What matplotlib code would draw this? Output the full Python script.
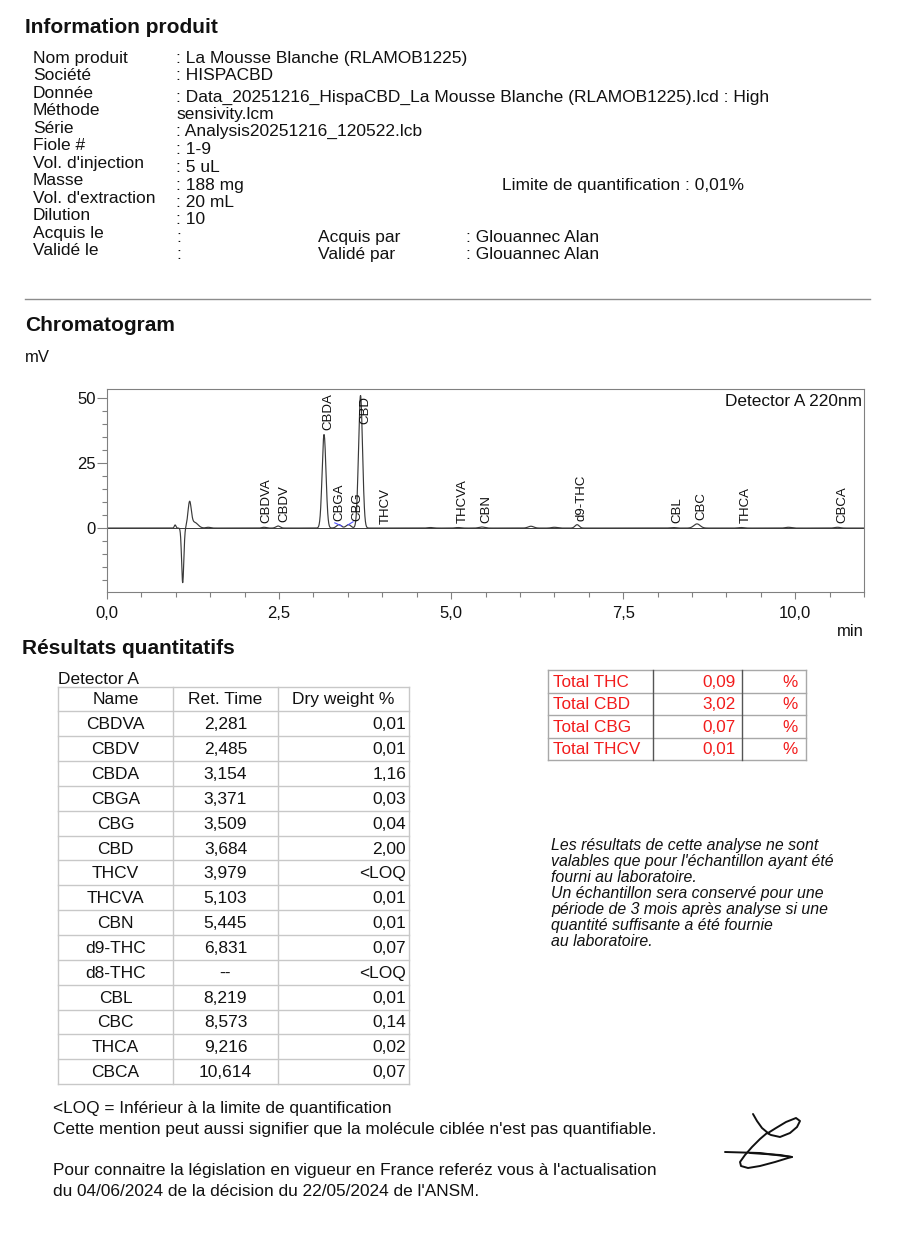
import matplotlib
matplotlib.use("Agg")
import matplotlib.pyplot as plt
from matplotlib.ticker import MultipleLocator, FuncFormatter
import numpy as np

plt.rcParams["font.family"] = ["Liberation Sans", "DejaVu Sans"]

# ---------------- data ----------------
info_labels = ["Nom produit", "Société", "Donnée", "Méthode", "Série", "Fiole #",
               "Vol. d'injection", "Masse", "Vol. d'extraction", "Dilution",
               "Acquis le", "Validé le"]
info_values = [": La Mousse Blanche (RLAMOB1225)", ": HISPACBD",
               ": Data_20251216_HispaCBD_La Mousse Blanche (RLAMOB1225).lcd : High",
               "sensivity.lcm", ": Analysis20251216_120522.lcb", ": 1-9", ": 5 uL",
               ": 188 mg", ": 20 mL", ": 10", ":", ":"]
operators = [("Acquis par", ": Glouannec Alan"), ("Validé par", ": Glouannec Alan")]
loq_text = "Limite de quantification : 0,01%"

compounds = ["CBDVA", "CBDV", "CBDA", "CBGA", "CBG", "CBD", "THCV", "THCVA", "CBN",
             "d9-THC", "d8-THC", "CBL", "CBC", "THCA", "CBCA"]
ret_times = ["2,281", "2,485", "3,154", "3,371", "3,509", "3,684", "3,979", "5,103",
             "5,445", "6,831", "--", "8,219", "8,573", "9,216", "10,614"]
dry_weight = ["0,01", "0,01", "1,16", "0,03", "0,04", "2,00", "<LOQ", "0,01", "0,01",
              "0,07", "<LOQ", "0,01", "0,14", "0,02", "0,07"]

totals_names = ["Total THC", "Total CBD", "Total CBG", "Total THCV"]
totals_values = ["0,09", "3,02", "0,07", "0,01"]

# peak heights (mV) and widths (min), same order as compounds
peak_height = [0.3, 0.8, 36.0, 1.3, 1.3, 51.0, 0.0, 0.2, 0.4, 1.3, 0.0, 0.2, 1.6, 0.2, 0.3]
peak_sigma = [0.03, 0.03, 0.028, 0.035, 0.035, 0.029, 0.03, 0.04, 0.04, 0.03, 0.03,
              0.04, 0.045, 0.04, 0.04]
# unlabelled features: solvent front and small unknown peaks
other_rt = [0.99, 1.10, 1.20, 1.27, 1.47, 4.70, 6.16, 6.50, 9.90]
other_height = [1.2, -21.0, 9.5, 2.2, 0.3, 0.2, 0.7, 0.3, 0.3]
other_sigma = [0.012, 0.016, 0.024, 0.05, 0.03, 0.04, 0.04, 0.04, 0.04]
# integration baselines drawn in blue (CBGA, CBG)
blue_x = [[3.31, 3.41], [3.50, 3.575]]
blue_y = [[2.0, 0.8], [1.2, 2.4]]

note_lines = ["Les résultats de cette analyse ne sont",
              "valables que pour l'échantillon ayant été",
              "fourni au laboratoire.",
              "Un échantillon sera conservé pour une",
              "période de 3 mois après analyse si une",
              "quantité suffisante a été fournie",
              "au laboratoire."]
footer_lines = ["<LOQ = Inférieur à la limite de quantification",
                "Cette mention peut aussi signifier que la molécule ciblée n'est pas quantifiable.",
                "",
                "Pour connaitre la législation en vigueur en France referéz vous à l'actualisation",
                "du 04/06/2024 de la décision du 22/05/2024 de l'ANSM."]

sig_x = [753, 757, 762, 768, 776, 786, 796, 800, 797, 790, 780, 771, 767, 760, 752, 745,
         740, 741, 748, 760, 775, 788, 792, 780, 765, 750]
sig_y = [1114, 1121, 1128, 1133, 1128, 1122, 1118, 1121, 1127, 1133, 1137, 1135, 1133,
         1139, 1147, 1155, 1162, 1166, 1168, 1166, 1162, 1158, 1157, 1155, 1154, 1153]
sig2_x = [725, 760, 792]
sig2_y = [1152, 1153, 1157]

# ---------------- figure ----------------
W, H = 900, 1247
fig = plt.figure(figsize=(W / 100, H / 100), dpi=100)
doc = fig.add_axes([0, 0, 1, 1])
doc.set_xlim(0, W)
doc.set_ylim(H, 0)
doc.axis("off")

TXT = "#111111"
FS = 12.5

# Information produit
doc.text(25, 33, "Information produit", fontsize=15, weight="bold", color=TXT)
label_base = [63, 80, 98, 115, 133, 150, 168, 185, 203, 220, 238, 255]
value_base = [63, 80, 102, 119, 136, 154, 172, 190, 207, 224, 242, 259]
for lab, yb in zip(info_labels, label_base):
    doc.text(33, yb, lab, fontsize=FS, color=TXT, va="baseline")
for val, yb in zip(info_values, value_base):
    doc.text(176, yb, val, fontsize=FS, color=TXT, va="baseline")
for (who, name), yb in zip(operators, value_base[-2:]):
    doc.text(318, yb, who, fontsize=FS, color=TXT, va="baseline")
    doc.text(466, yb, name, fontsize=FS, color=TXT, va="baseline")
doc.text(502, 190, loq_text, fontsize=FS, color=TXT, va="baseline")

doc.plot([25, 870], [299, 299], color="#8c8c8c", lw=1)

# Chromatogram
doc.text(25, 331, "Chromatogram", fontsize=15, weight="bold", color=TXT)
doc.text(25, 362, "mV", fontsize=12, color=TXT)
doc.text(864, 636, "min", fontsize=12, color=TXT, ha="right")

ax = fig.add_axes([107 / W, 1 - 592 / H, 757 / W, 203 / H])
rt = [float(r.replace(",", ".")) for r in ret_times if r != "--"]
hts = [h for h, r in zip(peak_height, ret_times) if r != "--"]
sig = [s for s, r in zip(peak_sigma, ret_times) if r != "--"]
names = [c for c, r in zip(compounds, ret_times) if r != "--"]

t = np.linspace(0, 11, 4401)
signal = np.zeros_like(t)
for c, h, s in zip(rt + other_rt, hts + other_height, sig + other_sigma):
    signal += h * np.exp(-0.5 * ((t - c) / s) ** 2)
ax.axhline(0, color="#3a3a3a", lw=0.7, zorder=1)
ax.plot(t, signal, color="#3a3a3a", lw=0.85, zorder=2)
for bx, by in zip(blue_x, blue_y):
    ax.plot(bx, by, color="#5050ff", lw=0.8, zorder=3)

# label positions: slightly right of the peak, low labels pushed apart when crowded
lab_x = [c + 0.07 for c in rt]
lab_y = [min(h + 1.6, 40.0) for h in hts]
min_gap = 0.26
for i in range(1, len(lab_x)):
    if lab_y[i] < 10 and lab_y[i - 1] < 10 and lab_x[i] - lab_x[i - 1] < min_gap:
        mid = (lab_x[i] + lab_x[i - 1]) / 2
        lab_x[i - 1], lab_x[i] = mid - min_gap / 2, mid + min_gap / 2
for n, lx, ly in zip(names, lab_x, lab_y):
    ax.text(lx, ly, n, rotation=90, ha="center", va="bottom", fontsize=9.5, color=TXT)

ax.set_xlim(0, 11)
ax.set_ylim(-24.6, 53.5)
ax.xaxis.set_major_locator(MultipleLocator(2.5))
ax.xaxis.set_minor_locator(MultipleLocator(0.5))
ax.yaxis.set_major_locator(MultipleLocator(25))
ax.yaxis.set_minor_locator(MultipleLocator(5))
ax.xaxis.set_major_formatter(FuncFormatter(lambda v, p: f"{v:.1f}".replace(".", ",")))
ax.yaxis.set_major_formatter(FuncFormatter(lambda v, p: f"{v:.0f}"))
ax.tick_params(axis="x", which="major", length=5, width=0.8, color="#808080",
               labelsize=12, pad=5, labelcolor=TXT)
ax.tick_params(axis="x", which="minor", length=3.5, width=0.8, color="#808080")
ax.tick_params(axis="y", which="major", length=7, width=0.8, color="#808080",
               labelsize=12, pad=1, labelcolor=TXT)
ax.tick_params(axis="y", which="minor", length=3.5, width=0.8, color="#808080")
for sp in ax.spines.values():
    sp.set_color("#808080")
    sp.set_linewidth(0.8)
ax.text(0.997, 0.975, "Detector A 220nm", transform=ax.transAxes, ha="right", va="top",
        fontsize=12.4, color=TXT)

# Résultats quantitatifs
doc.text(22, 654, "Résultats quantitatifs", fontsize=15, weight="bold", color=TXT)
doc.text(58, 684, "Detector A", fontsize=FS, color=TXT, va="baseline")

grid_c = "#c8c8c8"
top, rh = 686.5, 24.85
cols = [58, 173, 278, 409]
nrows = len(compounds) + 1
for i in range(nrows + 1):
    doc.plot([cols[0], cols[-1]], [top + i * rh] * 2, color=grid_c, lw=1)
for cx in cols:
    doc.plot([cx, cx], [top, top + nrows * rh], color=grid_c, lw=1)
header = ["Name", "Ret. Time", "Dry weight %"]
for j, hname in enumerate(header):
    doc.text((cols[j] + cols[j + 1]) / 2, top + 0.5 * rh + 5.5, hname, fontsize=FS,
             ha="center", va="baseline", color=TXT)
for i, (n, r, d) in enumerate(zip(compounds, ret_times, dry_weight)):
    yb = top + (i + 1.5) * rh + 5.5
    doc.text((cols[0] + cols[1]) / 2, yb, n, fontsize=FS, ha="center", va="baseline", color=TXT)
    doc.text((cols[1] + cols[2]) / 2, yb, r, fontsize=FS, ha="center", va="baseline", color=TXT)
    doc.text(cols[3] - 3, yb, d, fontsize=FS, ha="right", va="baseline", color=TXT)

# Totals table
RED = "#f21c1c"
ttop, trh = 670, 22.5
tcols = [548, 653, 742, 806]
for i in range(len(totals_names) + 1):
    doc.plot([tcols[0], tcols[-1]], [ttop + i * trh] * 2, color="#a8a8a8", lw=1)
for k, cx in enumerate(tcols):
    doc.plot([cx, cx], [ttop, ttop + len(totals_names) * trh],
             color="#a8a8a8" if k in (0, 3) else "#555555", lw=1)
for i, (n, v) in enumerate(zip(totals_names, totals_values)):
    yb = ttop + (i + 0.5) * trh + 5.5
    doc.text(553, yb, n, fontsize=12.3, color=RED, va="baseline")
    doc.text(736, yb, v, fontsize=12.3, color=RED, ha="right", va="baseline")
    doc.text(798, yb, "%", fontsize=12.3, color=RED, ha="right", va="baseline")

# note in italics
for k, line in enumerate(note_lines):
    doc.text(551, 850 + k * 16, line, fontsize=11.4, style="italic", color=TXT, va="baseline")

# footer
for k, line in enumerate(footer_lines):
    doc.text(53, 1113 + k * 20.7, line, fontsize=12.4, color=TXT, va="baseline")

# signature
doc.plot(sig_x, sig_y, color="#111111", lw=1.4, solid_capstyle="round", solid_joinstyle="round")
doc.plot(sig2_x, sig2_y, color="#111111", lw=1.4, solid_capstyle="round")

fig.savefig("out.png", dpi=100)
